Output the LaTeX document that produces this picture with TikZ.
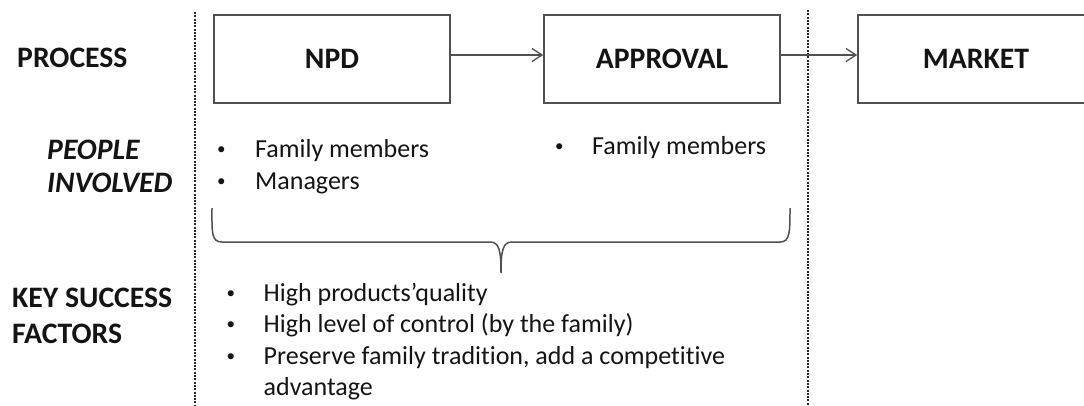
\documentclass[tikz,border=0pt]{standalone}
\usepackage{fontspec}
\setmainfont{Carlito}[RawFeature={-liga}]
\usetikzlibrary{arrows.meta}
\definecolor{txt}{HTML}{141414}
\definecolor{boxc}{HTML}{505050}
\definecolor{sepc}{HTML}{2A2A2A}
\newcommand{\mybul}[1]{\makebox[#1][l]{\raisebox{3.0pt}{\fontsize{17}{17}\selectfont •}}}
\begin{document}
\begin{tikzpicture}[x=1pt,y=-1pt,
  head/.style={font=\fontsize{29.7}{33}\selectfont\bfseries, text=txt, inner sep=0pt, anchor=west},
  body/.style={font=\fontsize{26}{30}\selectfont, text=txt, inner sep=0pt, anchor=mid west},
  procbox/.style={draw=boxc, line width=1.6pt, minimum width=236pt, minimum height=88pt,
     inner sep=0pt, font=\fontsize{29.7}{33}\selectfont\bfseries, text=txt},
  sepline/.style={draw=sepc, line width=1.3pt, dash pattern=on 2pt off 1.3pt},
  conn/.style={draw=boxc, line width=1.3pt, -{Straight Barb[length=10pt,width=13pt,line width=1.3pt]}},
  bracec/.style={draw=boxc, line width=1.5pt},
]
\useasboundingbox (0,0) rectangle (1084,405);
% separators
\coordinate (s1t) at (195,12); \coordinate (s1b) at (195,405);
\coordinate (s2t) at (808,10); \coordinate (s2b) at (808,405);
\draw[sepline] (s1t) -- (s1b);
\draw[sepline] (s2t) -- (s2b);
% row labels
\node[head] (process) at (17,58) {PROCESS};
\node[head, font=\fontsize{29.7}{33}\selectfont\bfseries\itshape] (people) at (47,150) {PEOPLE};
\node[head, font=\fontsize{29.7}{33}\selectfont\bfseries\itshape] (involved) at (47,183) {INVOLVED};
\node[head] (key) at (12,298) {KEY SUCCESS};
\node[head] (factors) at (12,334) {FACTORS};
% process boxes
\node[procbox] (npd) at (332,59) {NPD};
\node[procbox] (approval) at (662,59) {APPROVAL};
\node[procbox] (market) at (976,59) {MARKET};
\draw[conn] (npd.east |- 0,55) -- (approval.west |- 0,55);
\draw[conn] (approval.east |- 0,55) -- (market.west |- 0,55);
% people involved
\node[body] (p1) at (217,155) {\mybul{38pt}Family members};
\node[body] (p2) at (217,187) {\mybul{38pt}Managers};
\node[body] (p3) at (555,152) {\mybul{37pt}Family members};
% brace
\draw[bracec] (212,208) .. controls (212,232) and (211,242) .. (222,242) -- (490,242)
   .. controls (499,242) and (501,250) .. (501,273)
   .. controls (501,250) and (503,242) .. (512,242) -- (780,242)
   .. controls (790,242) and (790,232) .. (790,208);
% key success factors
\node[body] (k1) at (226.5,299) {\mybul{37pt}High products’quality};
\node[body] (k2) at (226.5,330) {\mybul{37pt}High level of control (by the family)};
\node[body] (k3) at (226.5,362) {\mybul{37pt}Preserve family tradition, add a competitive};
\node[body] (k4) at (263.5,393) {advantage};
\end{tikzpicture}
\end{document}
